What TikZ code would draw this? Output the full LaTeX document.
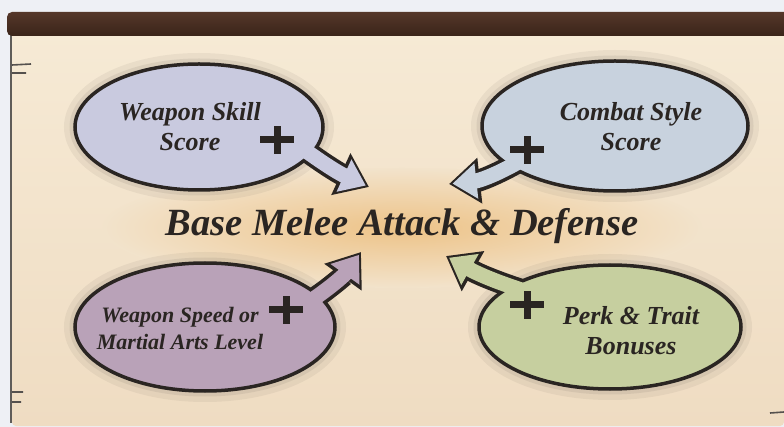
\documentclass[tikz,border=0pt]{standalone}
\usepackage{fontspec}
\setmainfont{Liberation Serif}
\usetikzlibrary{shapes.geometric,arrows.meta,positioning}
\definecolor{page}{HTML}{EEF0F5}
\definecolor{bartop}{HTML}{55372A}
\definecolor{barbot}{HTML}{3A2419}
\definecolor{parchtop}{HTML}{F6EAD5}
\definecolor{parchbot}{HTML}{EFDCC2}
\definecolor{glow}{HTML}{EDC388}
\definecolor{ink}{HTML}{2A2522}
\definecolor{wsfill}{HTML}{C9CADF}
\definecolor{csfill}{HTML}{C8D2DE}
\definecolor{wspfill}{HTML}{B9A2B8}
\definecolor{ptfill}{HTML}{C6CF9F}
\pgfdeclarelayer{bg}
\pgfdeclarelayer{back}
\pgfsetlayers{bg,back,main}
\tikzset{
  bubble/.style={ellipse, draw=ink, line width=3.5pt, inner sep=0pt,
    preaction={draw=ink, draw opacity=.06, line width=22pt},
    preaction={draw=ink, draw opacity=.08, line width=11pt}},
  lbl/.style={font=\fontsize{26}{30}\selectfont\bfseries\itshape, align=center, text=ink},
  lblsmall/.style={lbl, font=\fontsize{22}{27}\selectfont\bfseries\itshape},
  title/.style={font=\fontsize{38.5}{42}\selectfont\bfseries\itshape, text=ink},
  rim/.style={line width=22pt, draw=ink, -{Triangle[length=31pt,width=44pt]}},
  core/.style={line width=15pt, -{Triangle[length=24pt,width=34pt]}, shorten >=3.5pt},
  plusline/.style={line width=7pt, draw=ink},
}
\newcommand\plusmark[1]{\draw[plusline] ([xshift=-17pt]#1) -- ([xshift=17pt]#1)
  ([yshift=-14pt]#1) -- ([yshift=14pt]#1);}
\begin{document}
\begin{tikzpicture}[x=1pt,y=-1pt]
\useasboundingbox (0,0) rectangle (784,427);
\begin{pgfonlayer}{bg}
% parchment board
\fill[page] (0,0) rectangle (784,427);
\shade[top color=parchtop, bottom color=parchbot, rounded corners=4pt]
  (12,30) -- (12,426) -- (784,426) [sharp corners] -- (784,30) -- cycle;
\draw[ink!75, line width=1.2pt] (11,34) -- (11,423);
\shade[top color=bartop, bottom color=barbot] (784,12) [rounded corners=5pt] -- (7,12)
  -- (7,36) [sharp corners] -- (784,36) -- cycle;
\draw[ink!80, line width=1.6pt] (12,65) -- (31,64) (12,73) -- (26,73)
  (12,392) -- (23,392) (12,402) -- (21,402) (770,413) -- (784,412);
\shade[inner color=glow, outer color=parchtop!50!parchbot] (402,228) ellipse (300pt and 60pt);
\end{pgfonlayer}

\node[bubble, fill=wsfill, minimum width=248pt, minimum height=126pt] (ws) at (199,127) {};
\node[bubble, fill=csfill, minimum width=266pt, minimum height=130pt] (cs) at (615,126) {};
\node[bubble, fill=wspfill, minimum width=260pt, minimum height=128pt] (wsp) at (205,327) {};
\node[bubble, fill=ptfill, minimum width=262pt, minimum height=124pt] (pt) at (610,327) {};

\node[title] (base) at (402,226) {Base Melee Attack \& Defense};

\coordinate (ws-from) at (298,145);
\coordinate (ws-to) at (369,187);
\coordinate (cs-from) at (522,160);
\coordinate (cs-to) at (449,184);
\coordinate (wsp-from) at (312,300);
\coordinate (wsp-to) at (361,252);
\coordinate (pt-from) at (534,294);
\coordinate (pt-to) at (446,256);

\begin{pgfonlayer}{back}
\draw[rim] (ws-from) to[bend right=6] (ws-to);
\draw[rim] (cs-from) to[bend left=12] (cs-to);
\draw[rim] (wsp-from) to[bend right=10] (wsp-to);
\draw[rim] (pt-from) to[bend left=6] (pt-to);
\end{pgfonlayer}
\draw[core, draw=wsfill] (ws-from) to[bend right=6] (ws-to);
\draw[core, draw=csfill] (cs-from) to[bend left=12] (cs-to);
\draw[core, draw=wspfill] (wsp-from) to[bend right=10] (wsp-to);
\draw[core, draw=ptfill] (pt-from) to[bend left=6] (pt-to);

\coordinate (ws-plus) at (277,140);
\coordinate (cs-plus) at (527,150);
\coordinate (wsp-plus) at (286,310);
\coordinate (pt-plus) at (527,305);
\plusmark{ws-plus}
\plusmark{cs-plus}
\plusmark{wsp-plus}
\plusmark{pt-plus}

\node[lbl] (ws-text) at (190,127) {Weapon Skill\\Score};
\node[lbl] (cs-text) at (631,127) {Combat Style\\Score};
\node[lblsmall] (wsp-text) at (180,328) {Weapon Speed or\\Martial Arts Level};
\node[lbl] (pt-text) at (631,331) {Perk \& Trait\\Bonuses};
\end{tikzpicture}
\end{document}
